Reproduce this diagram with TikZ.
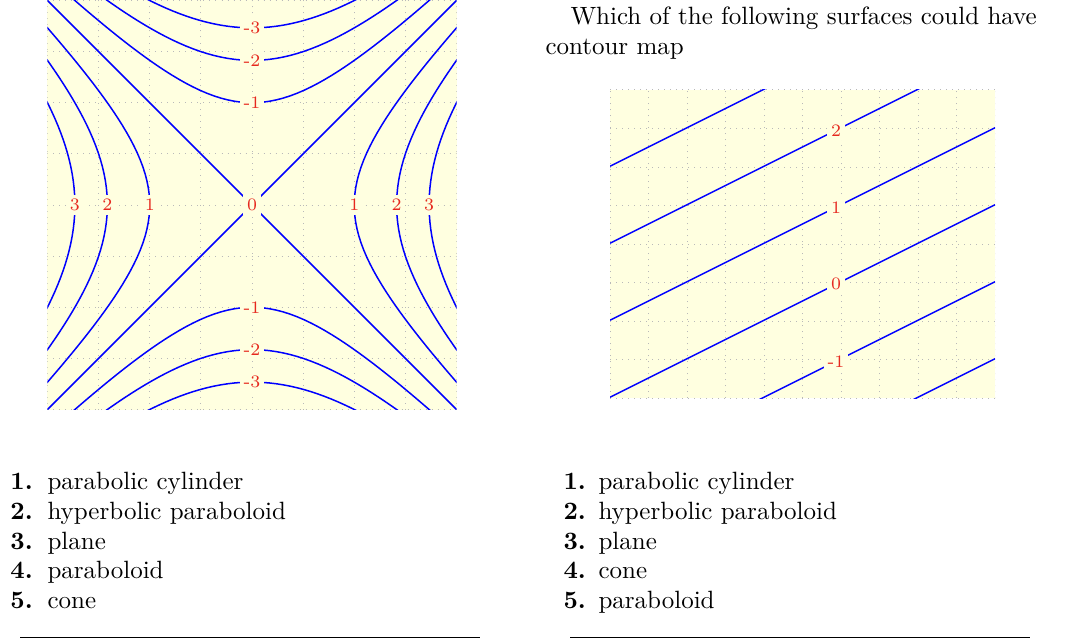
\documentclass[tikz,border=0pt]{standalone}
\usepackage{tikz}
\definecolor{paper}{RGB}{255,255,224}
\definecolor{lvlred}{RGB}{230,40,30}
\tikzset{
  contour/.style={blue, semithick},
  lvl/.style={text=lvlred, fill=paper, font=\scriptsize, inner sep=1.5pt},
  gridline/.style={gray!55, dotted},
  item/.style={anchor=base west, inner sep=0pt}
}
\begin{document}
\begin{tikzpicture}[x=0.4pt, y=-0.4pt]
  \useasboundingbox (0,0) rectangle (1068,640);
  % left map: x^2 - y^2
  \begin{scope}[shift={(252,205)}, x=40.9pt, y=40.9pt]
    \fill[paper] (-2,-2) rectangle (2,2);
    \clip (-2,-2) rectangle (2,2);
    \draw[gridline] (-2,-2) grid[step=0.5] (2,2);
    \foreach \c in {1,2,3}{
      \draw[contour] plot[domain=-2:2, samples=60] ({sqrt(\c+\x*\x)},\x);
      \draw[contour] plot[domain=-2:2, samples=60] ({-sqrt(\c+\x*\x)},\x);
      \draw[contour] plot[domain=-2:2, samples=60] (\x,{sqrt(\c+\x*\x)});
      \draw[contour] plot[domain=-2:2, samples=60] (\x,{-sqrt(\c+\x*\x)});
    }
    \draw[contour] (-2,-2) -- (2,2);
    \draw[contour] (-2,2) -- (2,-2);
    \foreach \c in {1,2,3}{
      \node[lvl] (r\c) at ({sqrt(\c)},0) {\c};
      \node[lvl] (l\c) at ({-sqrt(\c)},0) {\c};
      \node[lvl] (t\c) at (0,{sqrt(\c)}) {-\c};
      \node[lvl] (b\c) at (0,{-sqrt(\c)}) {-\c};
    }
    \node[lvl] (o) at (0,0) {0};
  \end{scope}
  % right map: planes
  \begin{scope}[shift={(802.5,244)}, x=30.8pt, y=30.8pt]
    \fill[paper] (-2.5,-2) rectangle (2.5,2);
    \clip (-2.5,-2) rectangle (2.5,2);
    \draw[gridline] (-2.5,-2) grid[step=0.5] (2.5,2);
    \foreach \k in {-2,...,3}{
      \draw[contour] (-2.5,{\k-1.99}) -- (2.5,{\k+0.51});
    }
    \foreach \k in {-1,...,2}{
      \node[lvl] (p\k) at (0.435,{\k-0.5225}) {\k};
    }
  \end{scope}
  \node[anchor=north west, inner sep=0pt, align=left] (question) at (545,6)
    {\hspace{10pt}Which of the following surfaces could have\\contour map};
  % answer lists
  \foreach \n/\a/\b [count=\i] in {1/parabolic cylinder/parabolic cylinder,
      2/hyperbolic paraboloid/hyperbolic paraboloid,3/plane/plane,
      4/paraboloid/cone,5/cone/paraboloid}{
    \node[item] (na\i) at (10,{460+29.7*\i}) {\textbf{\n.}};
    \node[item] (a\i) at (47,{460+29.7*\i}) {\a};
    \node[item] (nb\i) at (563,{460+29.7*\i}) {\textbf{\n.}};
    \node[item] (b\i) at (598,{460+29.7*\i}) {\b};
  }
  \coordinate (ra) at (20,637);
  \coordinate (rb) at (480,637);
  \coordinate (rc) at (570,637);
  \coordinate (rd) at (1030,637);
  \draw (ra) -- (rb);
  \draw (rc) -- (rd);
\end{tikzpicture}
\end{document}
